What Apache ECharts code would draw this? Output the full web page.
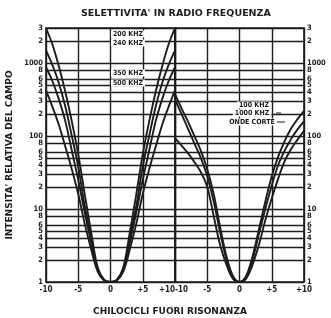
<!DOCTYPE html>
<html>
<head>
<meta charset="utf-8">
<script src="https://cdn.jsdelivr.net/npm/echarts@6/dist/echarts.min.js"></script>
<style>
html,body{margin:0;padding:0;background:#fff}
#main{width:331px;height:318px}
</style>
</head>
<body>
<div id="main"></div>
<script>
// chilocicli fuori risonanza
var khz = [-10,-9,-8,-7,-6,-5,-4,-3,-2,-1,0,1,2,3,4,5,6,7,8,9,10];
// righe orizzontali della scala logaritmica
var yTicks = [1,2,3,4,5,6,8,10,20,30,40,50,60,80,100,200,300,400,500,600,800,1000,2000,3000];

// onde medie / lunghe (pannello sinistro)
var s200 = [3000,1780,890,400,158,56,16,4.8,1.6,1.07,1,1.07,1.6,4.8,16,56,158,400,890,1780,3000];
var s240 = [1480,930,525,250,100,38,11,4,1.5,1.07,1,1.07,1.5,4,11,38,100,250,525,930,1480];
var s350 = [870,560,316,158,63,25,9,3.5,1.5,1.07,1,1.07,1.5,3.5,9,25,63,158,316,560,870];
var s500 = [420,250,141,71,35,16,6.3,2.8,1.4,1.05,1,1.05,1.4,2.8,6.3,16,35,71,141,250,420];

// pannello destro
var s100 = [372,240,158,100,63,35,16,5.6,2.2,1.2,1,1.2,2.2,5.2,12.6,28,52,85,126,170,220];
var s1000 = [316,200,126,79,50,28,12.6,4.8,2,1.17,1,1.17,2,4.5,10,21,40,63,91,123,158];
var sOnde = [93,74,58,44,32,20,8,3.2,1.7,1.1,1,1.1,1.7,3.2,7,14,26,45,66,89,117];

var FONT = '"DejaVu Sans Condensed", "DejaVu Sans", sans-serif';
var WIDE = '"DejaVu Sans", sans-serif';
var INK = '#1c1c1c';

function pairs(arr){
    return khz.map(function(k,i){ return [k, arr[i]]; });
}

function tickText(v){
    // 1000, 100, 10, 1 scritti per intero, gli altri solo la prima cifra
    if (v===1 || v===10 || v===100 || v===1000) return String(v);
    return String(v).charAt(0);
}

function gridLines(side){
    return {
        silent: true,
        symbol: ['none','none'],
        animation: false,
        lineStyle: { color: INK, width: 1.4, type: 'solid' },
        label: {
            show: true,
            position: side,
            distance: 3,
            color: INK,
            fontFamily: FONT,
            fontWeight: 'bold',
            fontSize: 7.5,
            formatter: function(p){ return tickText(p.value); }
        },
        data: yTicks.map(function(v){ return { yAxis: v }; })
    };
}

function curve(name, arr, idx, withGrid, side){
    var s = {
        name: name,
        type: 'line',
        xAxisIndex: idx,
        yAxisIndex: idx,
        data: pairs(arr),
        smooth: 0.35,
        showSymbol: false,
        z: 5,
        lineStyle: { color: INK, width: 1.9 }
    };
    if (withGrid) s.markLine = gridLines(side);
    return s;
}

var xLabel = {
    color: INK,
    fontFamily: FONT,
    fontWeight: 'bold',
    fontSize: 8,
    margin: 4,
    formatter: function(v){ return v > 0 ? '+' + v : String(v); }
};

function tag(text, x, y){
    return { type: 'text', x: x, y: y, z: 10,
        style: { text: text, font: 'bold 7px ' + FONT, fill: INK, align: 'center', verticalAlign: 'middle', backgroundColor: '#fff', padding: [0,2] } };
}

var dom = document.getElementById('main');
var myChart = echarts.init(dom);
var option = {
    backgroundColor: '#fff',
    animation: false,
    title: {
        text: "SELETTIVITA' IN RADIO FREQUENZA",
        left: 76,
        top: 4,
        textStyle: { fontFamily: WIDE, fontWeight: 'bold', fontSize: 9.5, color: INK }
    },
    grid: [
        { left: 46, top: 28, width: 129, height: 254, show: true, borderColor: INK, borderWidth: 1.6 },
        { left: 175, top: 28, width: 129, height: 254, show: true, borderColor: INK, borderWidth: 1.6 }
    ],
    xAxis: [
        {
            gridIndex: 0, type: 'value', min: -10, max: 10, interval: 5,
            axisLine: { show: false }, axisTick: { show: false },
            splitLine: { show: true, lineStyle: { color: INK, width: 1.4 } },
            axisLabel: Object.assign({ alignMaxLabel: 'right' }, xLabel)
        },
        {
            gridIndex: 1, type: 'value', min: -10, max: 10, interval: 5,
            axisLine: { show: false }, axisTick: { show: false },
            splitLine: { show: true, lineStyle: { color: INK, width: 1.4 } },
            axisLabel: Object.assign({ alignMinLabel: 'left' }, xLabel)
        }
    ],
    yAxis: [
        {
            gridIndex: 0, type: 'log', min: 1, max: 3000, logBase: 10,
            axisLine: { show: false }, axisTick: { show: false },
            axisLabel: { show: false }, splitLine: { show: false },
            name: "INTENSITA' RELATIVA DEL CAMPO",
            nameLocation: 'middle', nameRotate: 90, nameGap: 32,
            nameTextStyle: { fontFamily: WIDE, fontWeight: 'bold', fontSize: 9, color: INK }
        },
        {
            gridIndex: 1, type: 'log', min: 1, max: 3000, logBase: 10, position: 'right',
            axisLine: { show: false }, axisTick: { show: false },
            axisLabel: { show: false }, splitLine: { show: false }
        }
    ],
    graphic: [
        tag('200 KHZ', 128, 34),
        tag('240 KHZ', 128, 43),
        tag('350 KHZ', 128, 73),
        tag('500 KHZ', 128, 83),
        tag('100 KHZ', 254, 105),
        tag('1000 KHZ', 252, 113),
        tag('ONDE CORTE', 252, 122),
        { type: 'line', z: 10, shape: { x1: 276, y1: 113, x2: 281, y2: 113 }, style: { stroke: INK, lineWidth: 1 } },
        { type: 'line', z: 10, shape: { x1: 277, y1: 122, x2: 285, y2: 122 }, style: { stroke: INK, lineWidth: 1 } },
        { type: 'text', x: 170, y: 312, style: { text: 'CHILOCICLI FUORI RISONANZA', font: 'bold 9px ' + WIDE, fill: INK, align: 'center', verticalAlign: 'middle' } }
    ],
    series: [
        curve('200 KHZ', s200, 0, true, 'start'),
        curve('240 KHZ', s240, 0, false),
        curve('350 KHZ', s350, 0, false),
        curve('500 KHZ', s500, 0, false),
        curve('100 KHZ', s100, 1, true, 'end'),
        curve('1000 KHZ', s1000, 1, false),
        curve('ONDE CORTE', sOnde, 1, false)
    ]
};
if (option && typeof option === "object") {
    myChart.setOption(option, true);
}
</script>
</body>
</html>
